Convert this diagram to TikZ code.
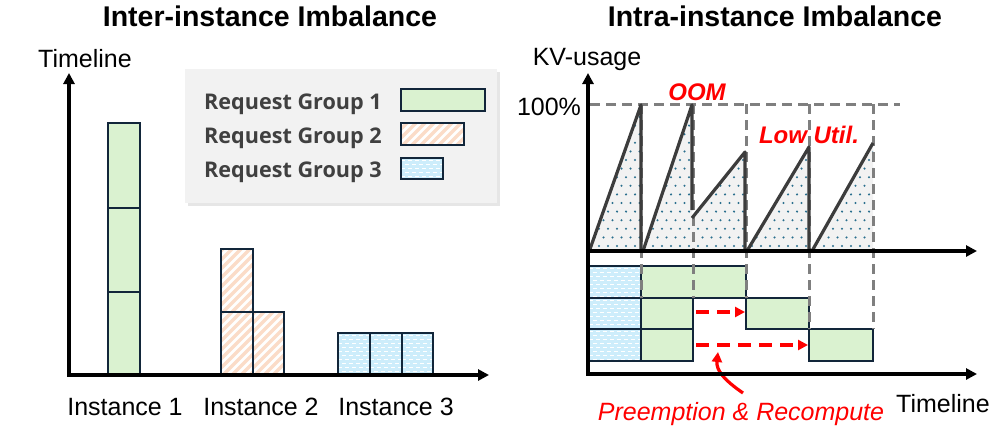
\documentclass[tikz,border=0pt]{standalone}
\usepackage{fontspec}
\setmainfont{Liberation Sans}
\newfontfamily\legfont{Open Sans}
\usetikzlibrary{arrows.meta}
\definecolor{gfill}{HTML}{DAF2D0}
\definecolor{bfill}{HTML}{CDEDFB}
\definecolor{peach}{HTML}{FBDCC8}
\definecolor{edge}{HTML}{12263A}
\definecolor{saw}{HTML}{3C3C3C}
\definecolor{dgray}{HTML}{7F7F7F}
\definecolor{dotc}{HTML}{2A6F8E}
\definecolor{legbg}{HTML}{F2F2F2}
\definecolor{legsh}{HTML}{E6E6E6}
\definecolor{legtxt}{HTML}{404040}
\definecolor{myred}{HTML}{FF0000}
\definecolor{kvshade}{HTML}{F2F2F2}
\tikzset{
 axisline/.style={line width=3.6pt, -{Triangle[length=11pt,width=11pt]}},
 blk/.style={draw=edge, line width=2pt},
 gdash/.style={dgray, line width=3pt, dash pattern=on 10pt off 6pt},
 rdash/.style={myred, line width=3.6pt, dash pattern=on 13pt off 8pt, -{Triangle[length=10pt,width=10pt]}},
 sawline/.style={saw, line width=3.2pt, line join=round},
 lbl/.style={font=\fontsize{25}{30}\selectfont, inner sep=0pt, anchor=base},
 ttl/.style={font=\fontsize{28.5}{34}\selectfont\bfseries, inner sep=0pt, anchor=base},
 leg/.style={font=\legfont\bfseries\fontsize{21.6}{26}\selectfont, text=legtxt, inner sep=0pt, anchor=base west},
 redb/.style={font=\fontsize{24}{29}\selectfont\bfseries\itshape, text=myred, inner sep=0pt, anchor=base},
}
\newcommand\greenbox[4]{\filldraw[blk, fill=gfill] (#1,#2) rectangle (#3,#4);}
\newcommand\stripebox[4]{%
 \begin{scope}
  \clip (#1,#2) rectangle (#3,#4);
  \fill[white] (#1,#2) rectangle (#3,#4);
  \foreach \k in {-171,-162,...,90} \draw[peach, line width=3.2pt] ({#1+\k},{#4+2}) -- ++(175,-175);
 \end{scope}
 \draw[blk] (#1,#2) rectangle (#3,#4);}
\newcommand\dotbox[4]{%
 \begin{scope}
  \clip (#1,#2) rectangle (#3,#4);
  \fill[bfill] (#1,#2) rectangle (#3,#4);
  \foreach \r [evaluate=\r as \ph using {mod(\r,2)*3.5}] in {0,...,12}
   \draw[white, line width=1.3pt, dash pattern=on 4pt off 3pt, dash phase=\ph pt] ({#1},{#2+2.5+4*\r}) -- ({#3},{#2+2.5+4*\r});
 \end{scope}
 \draw[blk] (#1,#2) rectangle (#3,#4);}
\begin{document}
\begin{tikzpicture}[x=1pt,y=-1pt]
\useasboundingbox (0,0) rectangle (996,431);
% ---------------- titles
\node[ttl] (t1) at (270,27) {Inter-instance Imbalance};
\node[ttl] (t2) at (775,27) {Intra-instance Imbalance};
% ---------------- left panel
\node[lbl] (tl1) at (85,67) {Timeline};
\fill[legsh] (188,72) rectangle (500,206);
\fill[legbg] (185,69) rectangle (497,203);
\node[leg] (lg1) at (204,109) {Request Group 1};
\node[leg] (lg2) at (204,143) {Request Group 2};
\node[leg] (lg3) at (204,177) {Request Group 3};
\greenbox{401}{89}{485}{111}
\stripebox{401}{123}{464}{145}
\dotbox{401}{158}{443}{179}
% instance 1
\greenbox{108}{123}{140}{208}
\greenbox{108}{208}{140}{292}
\greenbox{108}{292}{140}{375}
% instance 2
\stripebox{221}{249}{253}{312}
\stripebox{221}{312}{253}{375}
\stripebox{253}{312}{284}{375}
% instance 3
\dotbox{338}{333}{370}{375}
\dotbox{370}{333}{402}{375}
\dotbox{402}{333}{433}{375}
\draw[axisline] (69,376.8) -- (69,73);
\draw[axisline] (67.2,375) -- (489,375);
\node[lbl] (i1) at (125,415) {Instance 1};
\node[lbl] (i2) at (261,415) {Instance 2};
\node[lbl] (i3) at (396,415) {Instance 3};
% ---------------- right panel
\node[lbl] (kv) at (587,65) {KV-usage};
\node[lbl] (pc) at (549,115) {100\%};
% shaded area
\begin{scope}
 \clip (590,251) -- (641,104) -- (641,251) -- cycle
       (643,251) -- (692,104) -- (692,251) -- cycle
       (692,251) -- (692,218) -- (745,152) -- (745,251) -- cycle
       (747,251) -- (809,147) -- (809,251) -- cycle
       (812,251) -- (873,143) -- (873,251) -- cycle;
 \fill[kvshade] (588,100) rectangle (880,252);
 \foreach \r in {0,...,17}{
  \foreach \c in {0,...,33}{
   \fill[dotc] ({590+9*\c+4.5*mod(\r,2)},{246-8.6*\r}) circle (1.15);
  }
 }
\end{scope}
% lower blocks
\dotbox{589}{266}{641}{298}
\dotbox{589}{298}{641}{329}
\dotbox{589}{329}{641}{361}
\greenbox{641}{266}{746}{298}
\greenbox{641}{298}{693}{329}
\greenbox{641}{329}{693}{361}
\greenbox{746}{298}{809}{329}
\greenbox{809}{329}{873}{361}
% dashed guides
\draw[gdash] (590,104) -- (900,104);
\draw[gdash] (641,104) -- (641,298);
\draw[gdash] (693,104) -- (693,298);
\draw[gdash] (746,104) -- (746,298);
\draw[gdash] (809,104) -- (809,329);
\draw[gdash] (873,104) -- (873,329);
% sawtooth
\draw[sawline] (590,249) -- (641,105) -- (641,251);
\draw[sawline] (643,251) -- (692,105) -- (692,210);
\draw[sawline] (692,218) -- (745,152) -- (745,251);
\draw[sawline] (747,251) -- (809,147) -- (809,251);
\draw[sawline] (812,251) -- (873,143);
\node[redb] (oom) at (697,100) {OOM};
\node[redb] (lu) at (809,143) {Low Util.};
% red arrows
\coordinate (a1s) at (696,312);
\coordinate (a1e) at (745,312);
\coordinate (a2s) at (696,345);
\coordinate (a2e) at (808,345);
\coordinate (cs) at (743,393);
\coordinate (ce) at (718,352);
\draw[rdash] (a1s) -- (a1e);
\draw[rdash] (a2s) -- (a2e);
\draw[myred, line width=3.2pt, -{Triangle[length=10pt,width=10pt]}] (cs) .. controls (724,380) and (716,370) .. (ce);
% axes
\draw[axisline] (588,375.8) -- (588,73);
\draw[axisline] (586.2,251) -- (977,251);
\draw[axisline] (586.2,374) -- (977,374);
\node[lbl, text=myred, font=\fontsize{25}{30}\selectfont\itshape] (pr) at (741,420) {Preemption \& Recompute};
\node[lbl] (tl2) at (943,412) {Timeline};
\end{tikzpicture}
\end{document}
